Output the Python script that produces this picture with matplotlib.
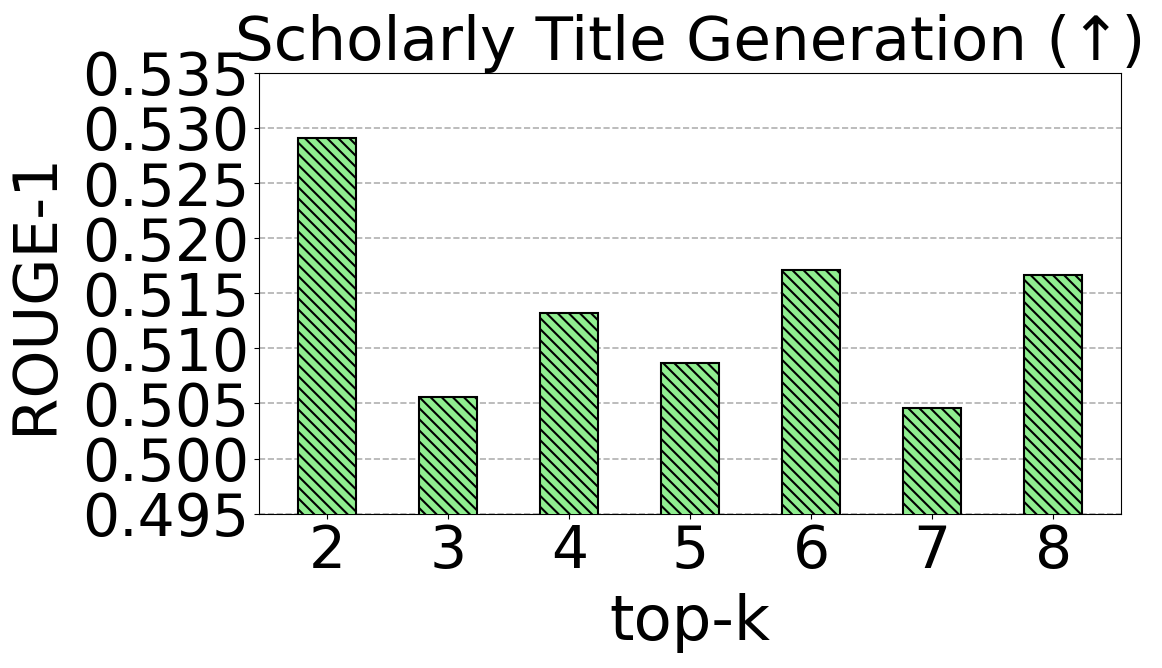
import matplotlib
matplotlib.use("Agg")
import matplotlib.pyplot as plt

topk = ["2", "3", "4", "5", "6", "7", "8"]
rouge1 = [0.5291, 0.5056, 0.5132, 0.5087, 0.5171, 0.5046, 0.5167]

plt.rcParams['hatch.linewidth'] = 1.5
fig, ax = plt.subplots(figsize=(11.62, 6.68), dpi=100)
fig.subplots_adjust(left=0.223, right=0.965, top=0.891, bottom=0.231)

ax.bar(range(len(topk)), rouge1, width=0.48, color="lightgreen", edgecolor="black",
       hatch="\\\\\\", linewidth=1.5, zorder=3)
ax.set_xticks(range(len(topk)))
ax.set_xticklabels(topk)
ax.set_ylim(0.495, 0.535)
ax.set_yticks([0.495, 0.500, 0.505, 0.510, 0.515, 0.520, 0.525, 0.530, 0.535])
ax.yaxis.set_major_formatter(matplotlib.ticker.FormatStrFormatter("%.3f"))
ax.tick_params(labelsize=42)
ax.grid(axis="y", linestyle="--", color="#b0b0b0", linewidth=1.2, zorder=0)
ax.set_xlabel("top-k", fontsize=45, labelpad=9)
ax.set_ylabel("ROUGE-1", fontsize=44, labelpad=12)
ax.set_title("Scholarly Title Generation (↑)", fontsize=44)

fig.savefig("out.png")
